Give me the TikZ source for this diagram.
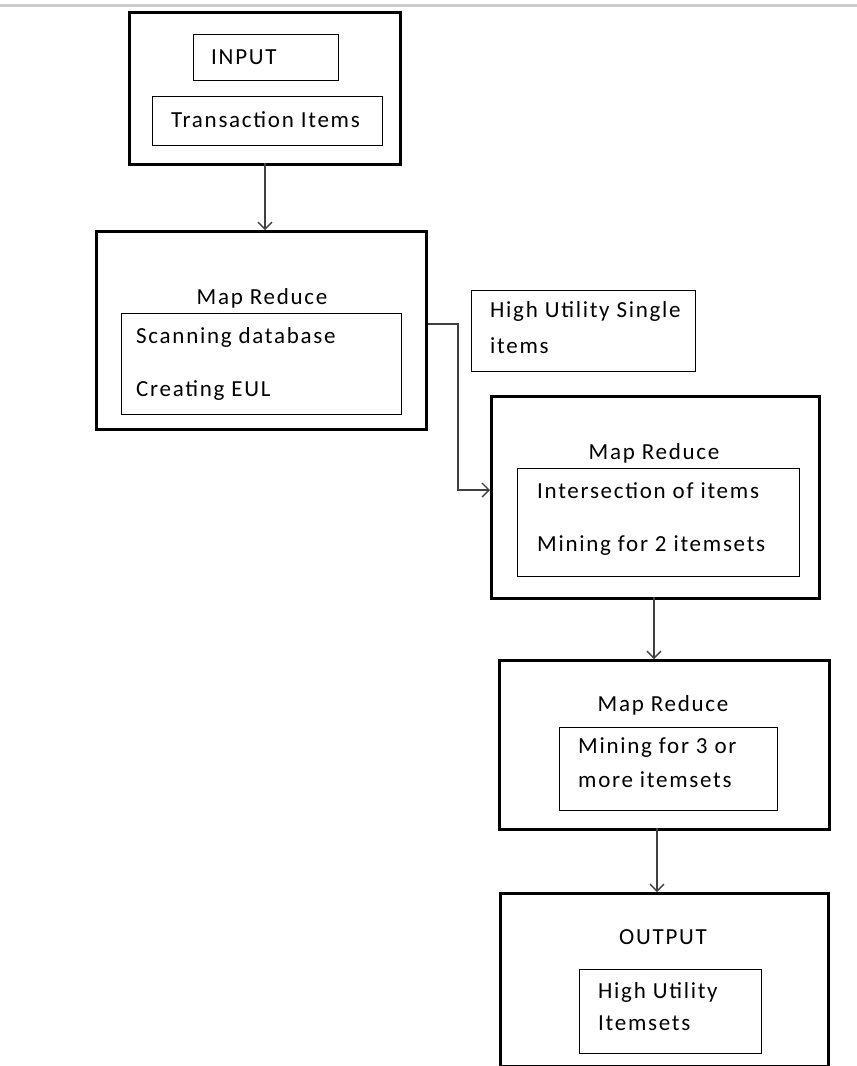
\documentclass[tikz,border=0pt]{standalone}
\usepackage{fontspec}
\setmainfont{Carlito}[LetterSpace=7.5]
\usetikzlibrary{arrows.meta}
\begin{document}
\begin{tikzpicture}[x=1pt,y=-1pt,
  outerbox/.style={draw=black,line width=3.2pt,minimum width=#1,anchor=north west,inner sep=0pt},
  innerbox/.style={draw=black,line width=1.3pt,anchor=north west,inner sep=0pt},
  lbl/.style={font=\fontsize{23}{27}\selectfont,inner sep=0pt,text=black},
  arr/.style={line width=1.3pt,draw=black!75,-{Straight Barb[length=7pt,width=14pt,line width=1.3pt]}}]
\useasboundingbox (0,0) rectangle (857,1066);
\fill[white] (0,0) rectangle (857,1066);
\draw[black!20,line width=3pt] (0,5) -- (857,5);
% INPUT group
\node[outerbox=271pt,minimum height=152pt] (inbox) at (128,11) {};
\node[innerbox,minimum width=145pt,minimum height=46pt] (inp) at (193,34) {};
\node[lbl,anchor=west] (inpt) at (211,57) {INPUT};
\node[innerbox,minimum width=230pt,minimum height=49pt] (trans) at (152,96) {};
\node[lbl,anchor=west] (transt) at (171,120) {Transaction Items};
% Map Reduce 1
\node[outerbox=330pt,minimum height=198pt] (mr1) at (95,230) {};
\node[lbl] (mr1t) at (262,298) {Map Reduce};
\node[innerbox,minimum width=280pt,minimum height=101pt] (mr1i) at (121,313) {};
\node[lbl,anchor=west] (scan) at (136,337) {Scanning database};
\node[lbl,anchor=west] (eul) at (136,391) {Creating EUL};
% High utility single items
\node[innerbox,minimum width=224pt,minimum height=81pt] (hus) at (471,290) {};
\node[lbl,anchor=west] (hust1) at (490,311) {High Utility Single};
\node[lbl,anchor=west] (hust2) at (490,346) {items};
% Map Reduce 2
\node[outerbox=328pt,minimum height=202pt] (mr2) at (490,395) {};
\node[lbl] (mr2t) at (654,453) {Map Reduce};
\node[innerbox,minimum width=282pt,minimum height=108pt] (mr2i) at (517,468) {};
\node[lbl,anchor=west] (inter) at (537,491) {Intersection of items};
\node[lbl,anchor=west] (min2) at (537,546) {Mining for 2 itemsets};
% Map Reduce 3
\node[outerbox=330pt,minimum height=169pt] (mr3) at (498,659) {};
\node[lbl] (mr3t) at (663,705) {Map Reduce};
\node[innerbox,minimum width=218pt,minimum height=83pt] (mr3i) at (559,727) {};
\node[lbl,anchor=west] (min3a) at (578,748) {Mining for 3 or};
\node[lbl,anchor=west] (min3b) at (578,780) {more itemsets};
% OUTPUT
\node[outerbox=328pt,minimum height=173pt] (outb) at (499,892) {};
\node[lbl] (outt) at (663,937) {OUTPUT};
\node[innerbox,minimum width=182pt,minimum height=84pt] (outi) at (579,969) {};
\node[lbl,anchor=west] (hui1) at (598,992) {High Utility};
\node[lbl,anchor=west] (hui2) at (598,1023) {Itemsets};
% connectors
\coordinate (elbow) at (458,324);
\coordinate (src1) at (265,163);
\draw[arr] (src1) -- (src1 |- mr1.north);
\draw[arr] (mr1.east |- elbow) -- (elbow) |- (mr2.west |- 0,490);
\coordinate (src2) at (654,597);
\draw[arr] (src2) -- (src2 |- mr3.north);
\coordinate (src3) at (657,828);
\draw[arr] (src3) -- (src3 |- outb.north);
\end{tikzpicture}
\end{document}
